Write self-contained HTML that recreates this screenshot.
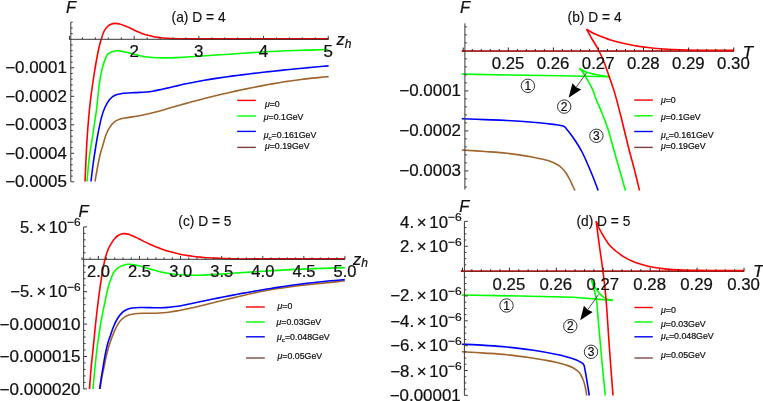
<!DOCTYPE html>
<html><head><meta charset="utf-8"><title>Free energy plots</title>
<style>
html,body{margin:0;padding:0;background:#fff;}
body{width:763px;height:401px;overflow:hidden;font-family:"Liberation Sans",sans-serif;}
svg{display:block;will-change:transform;}
svg text{font-family:"Liberation Sans",sans-serif;stroke:#111;stroke-width:0.22px;}
</style></head><body>
<svg width="763" height="401" viewBox="0 0 763 401">
<defs>
<linearGradient id="fadeA" gradientUnits="userSpaceOnUse" x1="170" y1="0" x2="200" y2="0"><stop offset="0" stop-color="#700000" stop-opacity="0"/><stop offset="1" stop-color="#700000" stop-opacity="0.28"/></linearGradient>
<linearGradient id="fadeC" gradientUnits="userSpaceOnUse" x1="215" y1="0" x2="245" y2="0"><stop offset="0" stop-color="#700000" stop-opacity="0"/><stop offset="1" stop-color="#700000" stop-opacity="0.28"/></linearGradient>
</defs>
<rect x="0" y="0" width="763" height="401" fill="#ffffff"/>
<path d="M95.00,181.50 C95.33,179.58 96.17,174.42 97.00,170.00 C97.83,165.58 98.92,159.50 100.00,155.00 C101.08,150.50 102.50,146.38 103.50,143.00 C104.50,139.62 104.98,137.27 106.00,134.70 C107.02,132.13 108.22,129.73 109.60,127.60 C110.98,125.47 112.53,123.35 114.30,121.90 C116.07,120.45 118.03,119.62 120.20,118.90 C122.37,118.18 124.13,118.13 127.30,117.60 C130.47,117.07 135.84,116.30 139.20,115.70 C142.56,115.10 144.69,114.63 147.43,114.02 C150.18,113.41 152.92,112.76 155.67,112.04 C158.41,111.33 161.16,110.53 163.90,109.74 C166.65,108.95 169.39,108.12 172.14,107.32 C174.88,106.52 177.63,105.72 180.37,104.95 C183.12,104.17 185.86,103.41 188.61,102.66 C191.35,101.91 194.10,101.18 196.84,100.46 C199.59,99.74 202.33,99.03 205.08,98.34 C207.82,97.64 210.57,96.96 213.31,96.29 C216.06,95.62 218.80,94.97 221.55,94.33 C224.29,93.68 227.04,93.05 229.78,92.43 C232.53,91.82 235.27,91.21 238.02,90.61 C240.76,90.02 243.51,89.44 246.25,88.86 C249.00,88.29 251.74,87.73 254.49,87.19 C257.23,86.64 259.98,86.11 262.72,85.59 C265.47,85.08 268.21,84.57 270.96,84.09 C273.70,83.60 276.45,83.13 279.19,82.68 C281.94,82.22 284.68,81.79 287.43,81.37 C290.17,80.95 292.92,80.55 295.66,80.18 C298.41,79.80 301.15,79.44 303.90,79.10 C306.64,78.76 309.39,78.44 312.13,78.15 C314.88,77.85 317.62,77.58 320.37,77.33 C323.11,77.08 327.23,76.76 328.60,76.65" fill="none" stroke="#a0642d" stroke-width="1.60" stroke-linejoin="round" stroke-linecap="butt"/>
<path d="M91.00,181.50 C91.33,178.75 92.17,171.08 93.00,165.00 C93.83,158.92 95.20,150.05 96.00,145.00 C96.80,139.95 96.92,139.18 97.80,134.70 C98.68,130.22 100.12,122.63 101.30,118.10 C102.48,113.57 103.52,110.62 104.90,107.50 C106.28,104.38 107.83,101.48 109.60,99.40 C111.37,97.32 113.33,96.00 115.50,95.00 C117.67,94.00 119.45,93.80 122.60,93.40 C125.75,93.00 130.45,92.83 134.40,92.60 C138.35,92.37 143.00,92.28 146.30,92.00 C149.60,91.72 151.58,91.36 154.23,90.90 C156.87,90.44 159.51,89.81 162.15,89.23 C164.79,88.65 167.44,88.04 170.08,87.43 C172.72,86.83 175.36,86.20 178.00,85.60 C180.65,85.00 183.29,84.39 185.93,83.83 C188.57,83.26 191.21,82.70 193.86,82.18 C196.50,81.66 199.14,81.17 201.78,80.70 C204.42,80.23 207.07,79.78 209.71,79.35 C212.35,78.92 214.99,78.51 217.63,78.11 C220.28,77.72 222.92,77.34 225.56,76.97 C228.20,76.61 230.84,76.25 233.49,75.91 C236.13,75.56 238.77,75.23 241.41,74.89 C244.06,74.56 246.70,74.24 249.34,73.92 C251.98,73.60 254.62,73.29 257.27,72.98 C259.91,72.67 262.55,72.37 265.19,72.07 C267.83,71.78 270.48,71.49 273.12,71.20 C275.76,70.91 278.40,70.63 281.04,70.36 C283.69,70.08 286.33,69.81 288.97,69.55 C291.61,69.28 294.25,69.02 296.90,68.76 C299.54,68.51 302.18,68.25 304.82,68.01 C307.46,67.76 310.11,67.52 312.75,67.28 C315.39,67.04 318.03,66.80 320.67,66.57 C323.32,66.34 327.28,66.00 328.60,65.89" fill="none" stroke="#0000ff" stroke-width="1.60" stroke-linejoin="round" stroke-linecap="butt"/>
<path d="M87.00,181.50 C87.37,177.58 88.37,164.92 89.20,158.00 C90.03,151.08 91.08,146.00 92.00,140.00 C92.92,134.00 93.93,127.17 94.70,122.00 C95.47,116.83 95.90,114.78 96.60,109.00 C97.30,103.22 98.17,93.13 98.90,87.30 C99.63,81.47 100.23,77.88 101.00,74.00 C101.77,70.12 102.47,67.17 103.50,64.00 C104.53,60.83 105.87,57.00 107.20,55.00 C108.53,53.00 109.78,52.72 111.50,52.00 C113.22,51.28 115.42,50.73 117.50,50.70 C119.58,50.67 121.25,51.22 124.00,51.80 C126.75,52.38 130.75,53.42 134.00,54.20 C137.25,54.98 140.50,55.95 143.50,56.50 C146.50,57.05 148.85,57.27 152.00,57.50 C155.15,57.73 158.57,57.88 162.40,57.90 C166.23,57.92 170.23,57.78 175.00,57.60 C179.77,57.42 182.67,57.32 191.00,56.80 C199.33,56.28 212.92,55.32 225.00,54.50 C237.08,53.68 251.83,52.57 263.50,51.90 C275.17,51.23 284.17,50.90 295.00,50.50 C305.83,50.10 322.92,49.67 328.50,49.50" fill="none" stroke="#00ff00" stroke-width="1.60" stroke-linejoin="round" stroke-linecap="butt"/>
<path d="M85.00,181.50 C85.33,174.58 86.30,151.58 87.00,140.00 C87.70,128.42 88.47,119.83 89.20,112.00 C89.93,104.17 90.60,99.17 91.40,93.00 C92.20,86.83 93.15,80.50 94.00,75.00 C94.85,69.50 95.67,64.58 96.50,60.00 C97.33,55.42 98.22,50.95 99.00,47.50 C99.78,44.05 100.33,42.05 101.20,39.30 C102.07,36.55 103.15,33.13 104.20,31.00 C105.25,28.87 106.37,27.63 107.50,26.50 C108.63,25.37 109.72,24.72 111.00,24.20 C112.28,23.68 113.78,23.43 115.20,23.40 C116.62,23.37 117.93,23.62 119.50,24.00 C121.07,24.38 123.02,25.10 124.60,25.70 C126.18,26.30 127.43,26.90 129.00,27.60 C130.57,28.30 132.42,29.18 134.00,29.90 C135.58,30.62 136.92,31.23 138.50,31.90 C140.08,32.57 141.92,33.33 143.50,33.90 C145.08,34.47 146.43,34.87 148.00,35.30 C149.57,35.73 151.32,36.15 152.90,36.50 C154.48,36.85 155.92,37.15 157.50,37.40 C159.08,37.65 160.02,37.80 162.40,38.00 C164.78,38.20 168.67,38.47 171.80,38.60 C174.93,38.73 178.00,38.75 181.20,38.80 C184.40,38.85 186.20,38.88 191.00,38.90 C195.80,38.92 187.05,38.90 210.00,38.90 C232.95,38.90 308.92,38.90 328.70,38.90" fill="none" stroke="#ff0000" stroke-width="1.60" stroke-linejoin="round" stroke-linecap="butt"/>
<path d="M69.23,39.30 L328.21,39.30 M70.80,22.20 L70.80,181.80 M69.53,39.30 L69.53,35.90 M82.46,39.30 L82.46,37.40 M95.40,39.30 L95.40,37.40 M108.33,39.30 L108.33,37.40 M121.27,39.30 L121.27,37.40 M134.20,39.30 L134.20,35.90 M147.13,39.30 L147.13,37.40 M160.07,39.30 L160.07,37.40 M173.00,39.30 L173.00,37.40 M185.94,39.30 L185.94,37.40 M198.87,39.30 L198.87,35.90 M211.80,39.30 L211.80,37.40 M224.74,39.30 L224.74,37.40 M237.67,39.30 L237.67,37.40 M250.61,39.30 L250.61,37.40 M263.54,39.30 L263.54,35.90 M276.47,39.30 L276.47,37.40 M289.41,39.30 L289.41,37.40 M302.34,39.30 L302.34,37.40 M315.28,39.30 L315.28,37.40 M328.21,39.30 L328.21,35.90 M70.80,181.80 L74.20,181.80 M70.80,176.10 L72.70,176.10 M70.80,170.40 L72.70,170.40 M70.80,164.70 L72.70,164.70 M70.80,159.00 L72.70,159.00 M70.80,153.30 L74.20,153.30 M70.80,147.60 L72.70,147.60 M70.80,141.90 L72.70,141.90 M70.80,136.20 L72.70,136.20 M70.80,130.50 L72.70,130.50 M70.80,124.80 L74.20,124.80 M70.80,119.10 L72.70,119.10 M70.80,113.40 L72.70,113.40 M70.80,107.70 L72.70,107.70 M70.80,102.00 L72.70,102.00 M70.80,96.30 L74.20,96.30 M70.80,90.60 L72.70,90.60 M70.80,84.90 L72.70,84.90 M70.80,79.20 L72.70,79.20 M70.80,73.50 L72.70,73.50 M70.80,67.80 L74.20,67.80 M70.80,62.10 L72.70,62.10 M70.80,56.40 L72.70,56.40 M70.80,50.70 L72.70,50.70 M70.80,45.00 L72.70,45.00 M70.80,33.60 L72.70,33.60 M70.80,27.90 L72.70,27.90 M70.80,22.20 L72.70,22.20" fill="none" stroke="#383838" stroke-width="1"/>
<path d="M170,39.30 L328.21,39.30" stroke="url(#fadeA)" stroke-width="1" fill="none"/>
<text x="66.00" y="12.50" font-size="16.50" text-anchor="start" fill="#111" font-style="italic">F</text>
<text transform="translate(66.90,73.20) scale(1.0600,1)" font-size="16.00" text-anchor="end" fill="#111" >−0.0001</text>
<text transform="translate(66.90,101.70) scale(1.0600,1)" font-size="16.00" text-anchor="end" fill="#111" >−0.0002</text>
<text transform="translate(66.90,130.20) scale(1.0600,1)" font-size="16.00" text-anchor="end" fill="#111" >−0.0003</text>
<text transform="translate(66.90,158.70) scale(1.0600,1)" font-size="16.00" text-anchor="end" fill="#111" >−0.0004</text>
<text transform="translate(66.90,187.20) scale(1.0600,1)" font-size="16.00" text-anchor="end" fill="#111" >−0.0005</text>
<text transform="translate(134.10,57.30) scale(1.0600,1)" font-size="16.00" text-anchor="middle" fill="#111" >2</text>
<text transform="translate(198.77,57.30) scale(1.0600,1)" font-size="16.00" text-anchor="middle" fill="#111" >3</text>
<text transform="translate(263.44,57.30) scale(1.0600,1)" font-size="16.00" text-anchor="middle" fill="#111" >4</text>
<text transform="translate(328.11,57.30) scale(1.0600,1)" font-size="16.00" text-anchor="middle" fill="#111" >5</text>
<text transform="translate(171.60,21.60) scale(0.9850,1)" font-size="14.00" text-anchor="start" fill="#111" style="stroke-width:0.15px">(a) D = 4</text>
<text x="336.50" y="45.20" font-size="16.50" text-anchor="start" fill="#111" font-style="italic">z<tspan font-size="12" dy="2.5">h</tspan></text>
<line x1="237.20" y1="100.40" x2="255.90" y2="100.40" stroke="#ff0000" stroke-width="1.40"/>
<text x="264.90" y="106.70" font-size="8.80" text-anchor="start" fill="#111" stroke="#111" stroke-width="0.2"><tspan font-style="italic">μ</tspan>=0</text>
<line x1="237.20" y1="116.00" x2="255.90" y2="116.00" stroke="#00ff00" stroke-width="1.40"/>
<text x="263.70" y="120.10" font-size="8.80" text-anchor="start" fill="#111" stroke="#111" stroke-width="0.2"><tspan font-style="italic">μ</tspan>=0.1GeV</text>
<line x1="237.20" y1="131.40" x2="255.90" y2="131.40" stroke="#0000ff" stroke-width="1.40"/>
<text x="263.70" y="138.00" font-size="8.80" text-anchor="start" fill="#111" stroke="#111" stroke-width="0.2"><tspan font-style="italic">μ</tspan><tspan font-style="italic" font-size="6.2" dy="1.6">c</tspan><tspan dy="-1.6">=0.161GeV</tspan></text>
<line x1="237.20" y1="147.40" x2="255.90" y2="147.40" stroke="#7d3c3c" stroke-width="1.40"/>
<text x="264.90" y="148.90" font-size="8.80" text-anchor="start" fill="#111" stroke="#111" stroke-width="0.2"><tspan font-style="italic">μ</tspan>=0.19GeV</text>
<path d="M461.80,150.00 C465.67,150.25 477.47,150.95 485.00,151.50 C492.53,152.05 499.17,152.38 507.00,153.30 C514.83,154.22 525.67,155.92 532.00,157.00 C538.33,158.08 541.67,158.97 545.00,159.80 C548.33,160.63 549.83,161.13 552.00,162.00 C554.17,162.87 556.33,163.95 558.00,165.00 C559.67,166.05 560.67,166.97 562.00,168.30 C563.33,169.63 564.67,171.05 566.00,173.00 C567.33,174.95 568.83,177.75 570.00,180.00 C571.17,182.25 572.17,184.75 573.00,186.50 C573.83,188.25 574.67,189.83 575.00,190.50" fill="none" stroke="#a0642d" stroke-width="1.60" stroke-linejoin="round" stroke-linecap="butt"/>
<path d="M461.80,118.70 C465.67,118.85 477.47,119.30 485.00,119.60 C492.53,119.90 498.00,119.97 507.00,120.50 C516.00,121.03 531.00,122.12 539.00,122.80 C547.00,123.48 550.97,124.07 555.00,124.60 C559.03,125.13 561.37,125.38 563.20,126.00 C565.03,126.62 564.50,126.58 566.00,128.30 C567.50,130.02 569.48,132.27 572.20,136.30 C574.92,140.33 579.00,146.13 582.30,152.50 C585.60,158.87 589.35,168.17 592.00,174.50 C594.65,180.83 597.17,187.83 598.20,190.50" fill="none" stroke="#0000ff" stroke-width="1.60" stroke-linejoin="round" stroke-linecap="butt"/>
<path d="M461.80,74.10 L510.00,75.00 L560.00,75.80 L610.30,76.80" fill="none" stroke="#00ff00" stroke-width="1.60" stroke-linejoin="round" stroke-linecap="butt"/>
<path d="M610.30,76.80 C608.53,76.55 602.58,75.77 599.70,75.30 C596.82,74.83 595.05,74.45 593.00,74.00 C590.95,73.55 589.08,73.18 587.40,72.60 C585.72,72.02 584.22,71.22 582.90,70.50 C581.58,69.78 580.07,68.67 579.50,68.30" fill="none" stroke="#00ff00" stroke-width="1.60" stroke-linejoin="round" stroke-linecap="butt"/>
<path d="M579.50,68.30 C580.02,68.92 581.57,70.58 582.60,72.00 C583.63,73.42 584.07,73.93 585.70,76.80 C587.33,79.67 590.62,85.33 592.40,89.20 C594.18,93.07 594.90,96.27 596.40,100.00 C597.90,103.73 599.45,106.68 601.40,111.60 C603.35,116.52 606.03,123.15 608.10,129.50 C610.17,135.85 611.88,142.95 613.80,149.70 C615.72,156.45 617.67,163.20 619.60,170.00 C621.53,176.80 624.43,187.08 625.40,190.50" fill="none" stroke="#00ff00" stroke-width="1.60" stroke-linejoin="round" stroke-linecap="butt"/>
<line x1="461.80" y1="51.00" x2="733.70" y2="51.00" stroke="#ff0000" stroke-width="2.00"/>
<line x1="463.40" y1="50.50" x2="733.70" y2="50.50" stroke="#bc4040" stroke-width="1.00"/>
<line x1="463.40" y1="51.50" x2="733.70" y2="51.50" stroke="#a83030" stroke-width="1.00"/>
<path d="M586.60,29.20 C587.50,29.75 590.10,31.48 592.00,32.50 C593.90,33.52 594.92,34.05 598.00,35.30 C601.08,36.55 606.33,38.67 610.50,40.00 C614.67,41.33 618.92,42.35 623.00,43.30 C627.08,44.25 630.83,45.00 635.00,45.70 C639.17,46.40 643.83,47.00 648.00,47.50 C652.17,48.00 655.83,48.37 660.00,48.70 C664.17,49.03 666.67,49.25 673.00,49.50 C679.33,49.75 690.17,50.05 698.00,50.20 C705.83,50.35 713.97,50.37 720.00,50.40 C726.03,50.43 731.83,50.40 734.20,50.40" fill="none" stroke="#ff0000" stroke-width="1.60" stroke-linejoin="round" stroke-linecap="butt"/>
<path d="M586.60,29.20 C587.50,30.83 590.10,35.70 592.00,39.00 C593.90,42.30 595.97,45.08 598.00,49.00 C600.03,52.92 602.27,57.68 604.20,62.50 C606.13,67.32 607.82,72.72 609.60,77.90 C611.38,83.08 612.93,86.87 614.90,93.60 C616.87,100.33 619.13,109.32 621.40,118.30 C623.67,127.28 626.40,139.22 628.50,147.50 C630.60,155.78 632.17,160.83 634.00,168.00 C635.83,175.17 638.58,186.75 639.50,190.50" fill="none" stroke="#ff0000" stroke-width="1.60" stroke-linejoin="round" stroke-linecap="butt"/>
<path d="M463.22,51.30 L463.22,47.50 M472.24,51.30 L472.24,49.00 M481.25,51.30 L481.25,49.00 M490.27,51.30 L490.27,49.00 M499.28,51.30 L499.28,49.00 M508.30,51.30 L508.30,47.50 M517.32,51.30 L517.32,49.00 M526.33,51.30 L526.33,49.00 M535.35,51.30 L535.35,49.00 M544.36,51.30 L544.36,49.00 M553.38,51.30 L553.38,47.50 M562.40,51.30 L562.40,49.00 M571.41,51.30 L571.41,49.00 M580.43,51.30 L580.43,49.00 M589.44,51.30 L589.44,49.00 M598.46,51.30 L598.46,47.50 M607.48,51.30 L607.48,49.00 M616.49,51.30 L616.49,49.00 M625.51,51.30 L625.51,49.00 M634.52,51.30 L634.52,49.00 M643.54,51.30 L643.54,47.50 M652.56,51.30 L652.56,49.00 M661.57,51.30 L661.57,49.00 M670.59,51.30 L670.59,49.00 M679.60,51.30 L679.60,49.00 M688.62,51.30 L688.62,47.50 M697.64,51.30 L697.64,49.00 M706.65,51.30 L706.65,49.00 M715.67,51.30 L715.67,49.00 M724.68,51.30 L724.68,49.00 M733.70,51.30 L733.70,47.50" fill="none" stroke="#2c2020" stroke-width="1"/>
<path d="M464.90,23.30 L464.90,189.50 M464.90,186.90 L466.80,186.90 M464.90,178.90 L466.80,178.90 M464.90,170.90 L468.30,170.90 M464.90,162.90 L466.80,162.90 M464.90,154.90 L466.80,154.90 M464.90,146.90 L466.80,146.90 M464.90,138.90 L466.80,138.90 M464.90,130.90 L468.30,130.90 M464.90,122.90 L466.80,122.90 M464.90,114.90 L466.80,114.90 M464.90,106.90 L466.80,106.90 M464.90,98.90 L466.80,98.90 M464.90,90.90 L468.30,90.90 M464.90,82.90 L466.80,82.90 M464.90,74.90 L466.80,74.90 M464.90,66.90 L466.80,66.90 M464.90,58.90 L466.80,58.90 M464.90,42.90 L466.80,42.90 M464.90,34.90 L466.80,34.90 M464.90,26.90 L466.80,26.90" fill="none" stroke="#383838" stroke-width="1"/>
<text x="460.00" y="12.50" font-size="16.50" text-anchor="start" fill="#111" font-style="italic">F</text>
<text transform="translate(461.00,96.40) scale(1.0600,1)" font-size="16.00" text-anchor="end" fill="#111" >−0.0001</text>
<text transform="translate(461.00,136.40) scale(1.0600,1)" font-size="16.00" text-anchor="end" fill="#111" >−0.0002</text>
<text transform="translate(461.00,176.40) scale(1.0600,1)" font-size="16.00" text-anchor="end" fill="#111" >−0.0003</text>
<text transform="translate(508.00,69.20) scale(1.0300,1)" font-size="16.30" text-anchor="middle" fill="#111" >0.25</text>
<text transform="translate(553.08,69.20) scale(1.0300,1)" font-size="16.30" text-anchor="middle" fill="#111" >0.26</text>
<text transform="translate(598.16,69.20) scale(1.0300,1)" font-size="16.30" text-anchor="middle" fill="#111" >0.27</text>
<text transform="translate(643.24,69.20) scale(1.0300,1)" font-size="16.30" text-anchor="middle" fill="#111" >0.28</text>
<text transform="translate(688.32,69.20) scale(1.0300,1)" font-size="16.30" text-anchor="middle" fill="#111" >0.29</text>
<text transform="translate(733.40,69.20) scale(1.0300,1)" font-size="16.30" text-anchor="middle" fill="#111" >0.30</text>
<text transform="translate(567.60,21.60) scale(0.9850,1)" font-size="14.00" text-anchor="start" fill="#111" style="stroke-width:0.15px">(b) D = 4</text>
<text x="742.40" y="57.60" font-size="17.30" text-anchor="start" fill="#111" font-style="italic">T</text>
<line x1="634.20" y1="100.10" x2="652.80" y2="100.10" stroke="#ff0000" stroke-width="1.40"/>
<text x="660.90" y="102.90" font-size="8.80" text-anchor="start" fill="#111" stroke="#111" stroke-width="0.2"><tspan font-style="italic">μ</tspan>=0</text>
<line x1="634.20" y1="115.80" x2="652.80" y2="115.80" stroke="#00ff00" stroke-width="1.40"/>
<text x="660.90" y="119.90" font-size="8.80" text-anchor="start" fill="#111" stroke="#111" stroke-width="0.2"><tspan font-style="italic">μ</tspan>=0.1GeV</text>
<line x1="634.20" y1="131.50" x2="652.80" y2="131.50" stroke="#0000ff" stroke-width="1.40"/>
<text x="660.90" y="137.90" font-size="8.80" text-anchor="start" fill="#111" stroke="#111" stroke-width="0.2"><tspan font-style="italic">μ</tspan><tspan font-style="italic" font-size="6.2" dy="1.6">c</tspan><tspan dy="-1.6">=0.161GeV</tspan></text>
<line x1="634.20" y1="147.40" x2="652.80" y2="147.40" stroke="#7d3c3c" stroke-width="1.40"/>
<text x="660.90" y="148.90" font-size="8.80" text-anchor="start" fill="#111" stroke="#111" stroke-width="0.2"><tspan font-style="italic">μ</tspan>=0.19GeV</text>
<line x1="586.60" y1="72.80" x2="576.23" y2="87.15" stroke="#222" stroke-width="0.80"/>
<path d="M568.60,97.70 L572.43,83.19 L576.23,87.15 L581.18,89.52 Z" fill="#000"/>
<circle cx="527.90" cy="85.80" r="6.7" fill="none" stroke="#111" stroke-width="0.85"/>
<text x="527.90" y="90.00" font-size="12.00" text-anchor="middle" fill="#111" >1</text>
<circle cx="564.20" cy="106.60" r="6.7" fill="none" stroke="#111" stroke-width="0.85"/>
<text x="564.20" y="110.80" font-size="12.00" text-anchor="middle" fill="#111" >2</text>
<circle cx="596.40" cy="135.80" r="6.7" fill="none" stroke="#111" stroke-width="0.85"/>
<text x="596.40" y="140.00" font-size="12.00" text-anchor="middle" fill="#111" >3</text>
<path d="M100.10,389.00 C100.38,387.17 101.17,381.57 101.80,378.00 C102.43,374.43 103.15,371.27 103.90,367.60 C104.65,363.93 105.40,359.80 106.30,356.00 C107.20,352.20 108.28,348.12 109.30,344.80 C110.32,341.48 111.25,339.00 112.40,336.10 C113.55,333.20 114.95,329.88 116.20,327.40 C117.45,324.92 118.45,322.97 119.90,321.20 C121.35,319.43 123.23,317.88 124.90,316.80 C126.57,315.72 128.23,315.22 129.90,314.70 C131.57,314.18 132.83,313.93 134.90,313.70 C136.97,313.47 139.90,313.37 142.30,313.30 C144.70,313.23 146.96,313.32 149.28,313.30 C151.61,313.28 153.94,313.27 156.27,313.18 C158.59,313.08 160.92,312.93 163.25,312.72 C165.58,312.51 167.90,312.25 170.23,311.94 C172.56,311.63 174.89,311.26 177.21,310.86 C179.54,310.47 181.87,310.02 184.20,309.55 C186.52,309.08 188.85,308.58 191.18,308.06 C193.51,307.54 195.83,306.99 198.16,306.44 C200.49,305.89 202.82,305.33 205.14,304.76 C207.47,304.20 209.80,303.62 212.13,303.04 C214.46,302.47 216.78,301.89 219.11,301.31 C221.44,300.73 223.77,300.15 226.09,299.58 C228.42,299.00 230.75,298.43 233.08,297.86 C235.40,297.30 237.73,296.74 240.06,296.19 C242.39,295.64 244.71,295.09 247.04,294.57 C249.37,294.04 251.70,293.52 254.02,293.02 C256.35,292.52 258.68,292.03 261.01,291.56 C263.33,291.09 265.66,290.64 267.99,290.21 C270.32,289.79 272.64,289.38 274.97,289.00 C277.30,288.61 279.63,288.25 281.96,287.91 C284.28,287.57 286.61,287.25 288.94,286.94 C291.27,286.64 293.59,286.35 295.92,286.07 C298.25,285.80 300.58,285.53 302.90,285.28 C305.23,285.02 307.56,284.77 309.89,284.53 C312.21,284.29 314.54,284.05 316.87,283.81 C319.20,283.58 321.52,283.34 323.85,283.10 C326.18,282.87 328.51,282.63 330.83,282.38 C333.16,282.13 335.49,281.88 337.82,281.62 C340.14,281.36 343.64,280.94 344.80,280.80" fill="none" stroke="#a0642d" stroke-width="1.60" stroke-linejoin="round" stroke-linecap="butt"/>
<path d="M99.60,389.00 C99.83,387.42 100.50,382.67 101.00,379.50 C101.50,376.33 101.97,373.75 102.60,370.00 C103.23,366.25 104.00,361.20 104.80,357.00 C105.60,352.80 106.43,348.48 107.40,344.80 C108.37,341.12 109.55,338.00 110.60,334.90 C111.65,331.80 112.57,328.90 113.70,326.20 C114.83,323.50 115.95,321.00 117.40,318.70 C118.85,316.40 120.73,313.97 122.40,312.40 C124.07,310.83 125.73,310.03 127.40,309.30 C129.07,308.57 130.33,308.30 132.40,308.00 C134.47,307.70 137.39,307.57 139.80,307.50 C142.21,307.43 144.51,307.54 146.87,307.59 C149.23,307.63 151.58,307.73 153.94,307.76 C156.29,307.78 158.65,307.79 161.01,307.72 C163.36,307.65 165.72,307.53 168.08,307.34 C170.43,307.14 172.79,306.86 175.14,306.54 C177.50,306.22 179.86,305.83 182.21,305.42 C184.57,305.00 186.93,304.54 189.28,304.06 C191.64,303.59 194.00,303.08 196.35,302.58 C198.71,302.08 201.06,301.57 203.42,301.07 C205.78,300.57 208.13,300.08 210.49,299.59 C212.85,299.10 215.20,298.62 217.56,298.14 C219.91,297.66 222.27,297.19 224.63,296.73 C226.98,296.26 229.34,295.80 231.70,295.35 C234.05,294.89 236.41,294.44 238.77,294.00 C241.12,293.56 243.48,293.13 245.83,292.70 C248.19,292.27 250.55,291.85 252.90,291.44 C255.26,291.02 257.62,290.61 259.97,290.22 C262.33,289.82 264.69,289.42 267.04,289.04 C269.40,288.66 271.75,288.28 274.11,287.91 C276.47,287.55 278.82,287.19 281.18,286.83 C283.54,286.48 285.89,286.14 288.25,285.81 C290.60,285.47 292.96,285.15 295.32,284.83 C297.67,284.52 300.03,284.21 302.39,283.91 C304.74,283.61 307.10,283.33 309.46,283.05 C311.81,282.77 314.17,282.50 316.52,282.24 C318.88,281.98 321.24,281.74 323.59,281.50 C325.95,281.26 328.31,281.03 330.66,280.81 C333.02,280.60 335.37,280.39 337.73,280.20 C340.09,280.00 343.62,279.74 344.80,279.65" fill="none" stroke="#0000ff" stroke-width="1.60" stroke-linejoin="round" stroke-linecap="butt"/>
<path d="M93.00,389.00 C93.33,385.33 94.25,374.33 95.00,367.00 C95.75,359.67 96.50,352.50 97.50,345.00 C98.50,337.50 99.68,329.53 101.00,322.00 C102.32,314.47 104.18,305.63 105.40,299.80 C106.62,293.97 107.23,290.88 108.30,287.00 C109.37,283.12 110.72,279.17 111.80,276.50 C112.88,273.83 113.73,272.45 114.80,271.00 C115.87,269.55 117.12,268.63 118.20,267.80 C119.28,266.97 120.25,266.48 121.30,266.00 C122.35,265.52 123.52,265.18 124.50,264.90 C125.48,264.62 126.32,264.42 127.20,264.30 C128.08,264.18 128.58,264.13 129.80,264.20 C131.02,264.27 132.90,264.42 134.50,264.70 C136.10,264.98 136.82,265.17 139.40,265.90 C141.98,266.63 147.07,268.25 150.00,269.10 C152.93,269.95 154.53,270.40 157.00,271.00 C159.47,271.60 162.13,272.20 164.80,272.70 C167.47,273.20 170.17,273.65 173.00,274.00 C175.83,274.35 178.80,274.60 181.80,274.80 C184.80,275.00 187.97,275.13 191.00,275.20 C194.03,275.27 195.83,275.33 200.00,275.20 C204.17,275.07 207.08,274.95 216.00,274.40 C224.92,273.85 241.00,272.70 253.50,271.90 C266.00,271.10 275.78,270.32 291.00,269.60 C306.22,268.88 335.83,267.93 344.80,267.60" fill="none" stroke="#00ff00" stroke-width="1.60" stroke-linejoin="round" stroke-linecap="butt"/>
<path d="M89.50,389.00 C89.78,385.33 90.53,374.33 91.20,367.00 C91.87,359.67 92.70,352.83 93.50,345.00 C94.30,337.17 95.08,328.33 96.00,320.00 C96.92,311.67 98.03,302.33 99.00,295.00 C99.97,287.67 100.80,281.95 101.80,276.00 C102.80,270.05 103.92,263.80 105.00,259.30 C106.08,254.80 107.17,251.78 108.30,249.00 C109.43,246.22 110.68,244.40 111.80,242.60 C112.92,240.80 113.93,239.38 115.00,238.20 C116.07,237.02 117.15,236.20 118.20,235.50 C119.25,234.80 120.25,234.32 121.30,234.00 C122.35,233.68 123.30,233.55 124.50,233.60 C125.70,233.65 127.16,233.92 128.48,234.29 C129.81,234.66 131.14,235.24 132.47,235.80 C133.79,236.35 135.12,236.99 136.45,237.62 C137.78,238.26 139.10,238.95 140.43,239.62 C141.76,240.29 143.09,240.98 144.41,241.63 C145.74,242.28 147.07,242.92 148.40,243.54 C149.72,244.16 151.05,244.76 152.38,245.34 C153.71,245.92 155.03,246.48 156.36,247.02 C157.69,247.55 159.02,248.07 160.34,248.56 C161.67,249.05 163.00,249.52 164.33,249.96 C165.66,250.41 166.98,250.83 168.31,251.23 C169.64,251.62 170.97,252.00 172.29,252.35 C173.62,252.70 174.95,253.03 176.28,253.34 C177.60,253.65 178.93,253.94 180.26,254.22 C181.59,254.49 182.91,254.74 184.24,254.98 C185.57,255.22 186.90,255.43 188.22,255.64 C189.55,255.84 190.88,256.03 192.21,256.20 C193.53,256.38 194.86,256.54 196.19,256.69 C197.52,256.83 198.84,256.97 200.17,257.09 C201.50,257.22 202.83,257.33 204.16,257.43 C205.48,257.53 206.81,257.63 208.14,257.71 C209.47,257.80 210.79,257.87 212.12,257.94 C213.45,258.02 214.78,258.08 216.10,258.14 C217.43,258.20 218.76,258.25 220.09,258.30 C221.41,258.35 222.74,258.40 224.07,258.44 C225.40,258.49 226.72,258.53 228.05,258.57 C229.38,258.61 230.71,258.65 232.03,258.70 C233.36,258.74 234.69,258.78 236.02,258.83 C237.34,258.87 236.00,258.96 240.00,258.97 C244.00,258.98 242.50,258.91 260.00,258.90 C277.50,258.89 330.83,258.90 345.00,258.90" fill="none" stroke="#ff0000" stroke-width="1.60" stroke-linejoin="round" stroke-linecap="butt"/>
<path d="M81.61,259.30 L344.95,259.30 M83.65,226.90 L83.65,388.90 M81.91,259.30 L81.91,257.40 M90.13,259.30 L90.13,257.40 M98.35,259.30 L98.35,255.90 M106.57,259.30 L106.57,257.40 M114.79,259.30 L114.79,257.40 M123.01,259.30 L123.01,257.40 M131.23,259.30 L131.23,257.40 M139.45,259.30 L139.45,255.90 M147.67,259.30 L147.67,257.40 M155.89,259.30 L155.89,257.40 M164.11,259.30 L164.11,257.40 M172.33,259.30 L172.33,257.40 M180.55,259.30 L180.55,255.90 M188.77,259.30 L188.77,257.40 M196.99,259.30 L196.99,257.40 M205.21,259.30 L205.21,257.40 M213.43,259.30 L213.43,257.40 M221.65,259.30 L221.65,255.90 M229.87,259.30 L229.87,257.40 M238.09,259.30 L238.09,257.40 M246.31,259.30 L246.31,257.40 M254.53,259.30 L254.53,257.40 M262.75,259.30 L262.75,255.90 M270.97,259.30 L270.97,257.40 M279.19,259.30 L279.19,257.40 M287.41,259.30 L287.41,257.40 M295.63,259.30 L295.63,257.40 M303.85,259.30 L303.85,255.90 M312.07,259.30 L312.07,257.40 M320.29,259.30 L320.29,257.40 M328.51,259.30 L328.51,257.40 M336.73,259.30 L336.73,257.40 M344.95,259.30 L344.95,255.90 M83.65,388.90 L87.05,388.90 M83.65,382.42 L85.55,382.42 M83.65,375.94 L85.55,375.94 M83.65,369.46 L85.55,369.46 M83.65,362.98 L85.55,362.98 M83.65,356.50 L87.05,356.50 M83.65,350.02 L85.55,350.02 M83.65,343.54 L85.55,343.54 M83.65,337.06 L85.55,337.06 M83.65,330.58 L85.55,330.58 M83.65,324.10 L87.05,324.10 M83.65,317.62 L85.55,317.62 M83.65,311.14 L85.55,311.14 M83.65,304.66 L85.55,304.66 M83.65,298.18 L85.55,298.18 M83.65,291.70 L87.05,291.70 M83.65,285.22 L85.55,285.22 M83.65,278.74 L85.55,278.74 M83.65,272.26 L85.55,272.26 M83.65,265.78 L85.55,265.78 M83.65,252.82 L85.55,252.82 M83.65,246.34 L85.55,246.34 M83.65,239.86 L85.55,239.86 M83.65,233.38 L85.55,233.38 M83.65,226.90 L87.05,226.90" fill="none" stroke="#383838" stroke-width="1"/>
<path d="M215,259.30 L344.95,259.30" stroke="url(#fadeC)" stroke-width="1" fill="none"/>
<text x="78.40" y="216.80" font-size="16.50" text-anchor="start" fill="#111" font-style="italic">F</text>
<text transform="translate(80.70,232.80) scale(1.0350,1)" font-size="16.00" text-anchor="end" fill="#111" >5.<tspan dx="2.6">×</tspan><tspan dx="2.6">10</tspan><tspan font-size="11.5" dy="-6.5">−6</tspan></text>
<text transform="translate(80.70,297.40) scale(1.0350,1)" font-size="16.00" text-anchor="end" fill="#111" >−5.<tspan dx="2.6">×</tspan><tspan dx="2.6">10</tspan><tspan font-size="11.5" dy="-6.5">−6</tspan></text>
<text transform="translate(80.50,330.00) scale(1.0650,1)" font-size="16.00" text-anchor="end" fill="#111" >−0.000010</text>
<text transform="translate(80.50,362.40) scale(1.0650,1)" font-size="16.00" text-anchor="end" fill="#111" >−0.000015</text>
<text transform="translate(80.50,394.80) scale(1.0650,1)" font-size="16.00" text-anchor="end" fill="#111" >−0.000020</text>
<text transform="translate(98.45,277.00) scale(1.0200,1)" font-size="16.20" text-anchor="middle" fill="#111" >2.0</text>
<text transform="translate(139.55,277.00) scale(1.0200,1)" font-size="16.20" text-anchor="middle" fill="#111" >2.5</text>
<text transform="translate(180.65,277.00) scale(1.0200,1)" font-size="16.20" text-anchor="middle" fill="#111" >3.0</text>
<text transform="translate(221.75,277.00) scale(1.0200,1)" font-size="16.20" text-anchor="middle" fill="#111" >3.5</text>
<text transform="translate(262.85,277.00) scale(1.0200,1)" font-size="16.20" text-anchor="middle" fill="#111" >4.0</text>
<text transform="translate(303.95,277.00) scale(1.0200,1)" font-size="16.20" text-anchor="middle" fill="#111" >4.5</text>
<text transform="translate(345.05,277.00) scale(1.0200,1)" font-size="16.20" text-anchor="middle" fill="#111" >5.0</text>
<text transform="translate(178.30,225.50) scale(0.9850,1)" font-size="14.00" text-anchor="start" fill="#111" style="stroke-width:0.15px">(c) D = 5</text>
<text x="353.00" y="264.70" font-size="16.50" text-anchor="start" fill="#111" font-style="italic">z<tspan font-size="12" dy="2.5">h</tspan></text>
<line x1="246.00" y1="307.00" x2="264.80" y2="307.00" stroke="#ff0000" stroke-width="1.40"/>
<text x="277.50" y="308.90" font-size="8.80" text-anchor="start" fill="#111" stroke="#111" stroke-width="0.2"><tspan font-style="italic">μ</tspan>=0</text>
<line x1="246.00" y1="322.00" x2="264.80" y2="322.00" stroke="#00ff00" stroke-width="1.40"/>
<text x="276.50" y="324.70" font-size="8.80" text-anchor="start" fill="#111" stroke="#111" stroke-width="0.2"><tspan font-style="italic">μ</tspan>=0.03GeV</text>
<line x1="246.00" y1="336.80" x2="264.80" y2="336.80" stroke="#0000ff" stroke-width="1.40"/>
<text x="277.00" y="340.20" font-size="8.80" text-anchor="start" fill="#111" stroke="#111" stroke-width="0.2"><tspan font-style="italic">μ</tspan><tspan font-style="italic" font-size="6.2" dy="1.6">c</tspan><tspan dy="-1.6">=0.048GeV</tspan></text>
<line x1="246.00" y1="358.00" x2="264.80" y2="358.00" stroke="#804848" stroke-width="1.40"/>
<text x="277.50" y="358.80" font-size="8.80" text-anchor="start" fill="#111" stroke="#111" stroke-width="0.2"><tspan font-style="italic">μ</tspan>=0.05GeV</text>
<path d="M461.80,351.70 C465.67,351.93 477.47,352.58 485.00,353.10 C492.53,353.62 499.17,353.98 507.00,354.80 C514.83,355.62 525.67,357.12 532.00,358.00 C538.33,358.88 540.83,359.35 545.00,360.10 C549.17,360.85 553.50,361.68 557.00,362.50 C560.50,363.32 563.33,364.13 566.00,365.00 C568.67,365.87 570.78,366.45 573.00,367.70 C575.22,368.95 577.63,370.53 579.30,372.50 C580.97,374.47 582.05,377.25 583.00,379.50 C583.95,381.75 584.37,383.33 585.00,386.00 C585.63,388.67 586.50,393.92 586.80,395.50" fill="none" stroke="#a0642d" stroke-width="1.60" stroke-linejoin="round" stroke-linecap="butt"/>
<path d="M461.80,344.20 C465.67,344.40 477.47,344.93 485.00,345.40 C492.53,345.87 499.17,346.23 507.00,347.00 C514.83,347.77 523.67,348.75 532.00,350.00 C540.33,351.25 550.17,353.05 557.00,354.50 C563.83,355.95 568.67,357.17 573.00,358.70 C577.33,360.23 581.00,361.82 583.00,363.70 C585.00,365.58 584.37,367.28 585.00,370.00 C585.63,372.72 586.08,375.75 586.80,380.00 C587.52,384.25 588.88,392.92 589.30,395.50" fill="none" stroke="#0000ff" stroke-width="1.60" stroke-linejoin="round" stroke-linecap="butt"/>
<path d="M461.80,295.00 L520.00,296.00 L573.00,297.30 L612.80,300.40" fill="none" stroke="#00ff00" stroke-width="1.60" stroke-linejoin="round" stroke-linecap="butt"/>
<path d="M612.80,300.40 C611.83,300.15 608.65,299.52 607.00,298.90 C605.35,298.28 604.25,297.73 602.90,296.70 C601.55,295.67 600.25,294.32 598.90,292.70 C597.55,291.08 596.02,289.17 594.80,287.00 C593.58,284.83 592.13,280.92 591.60,279.70" fill="none" stroke="#00ff00" stroke-width="1.60" stroke-linejoin="round" stroke-linecap="butt"/>
<path d="M591.60,279.70 C592.00,281.32 593.18,286.02 594.00,289.40 C594.82,292.78 595.82,295.13 596.50,300.00 C597.18,304.87 597.58,312.77 598.10,318.60 C598.62,324.43 598.98,328.10 599.60,335.00 C600.22,341.90 600.85,349.92 601.80,360.00 C602.75,370.08 604.72,389.58 605.30,395.50" fill="none" stroke="#00ff00" stroke-width="1.60" stroke-linejoin="round" stroke-linecap="butt"/>
<line x1="460.80" y1="271.00" x2="744.00" y2="271.00" stroke="#ff0000" stroke-width="2.00"/>
<line x1="462.60" y1="270.50" x2="744.00" y2="270.50" stroke="#cc5555" stroke-width="1.00"/>
<line x1="462.60" y1="271.50" x2="744.00" y2="271.50" stroke="#8c2020" stroke-width="1.00"/>
<path d="M596.20,221.20 C596.67,222.33 597.87,225.65 599.00,228.00 C600.13,230.35 601.08,232.25 603.00,235.30 C604.92,238.35 607.17,242.80 610.50,246.30 C613.83,249.80 618.83,253.60 623.00,256.30 C627.17,259.00 631.33,260.85 635.50,262.50 C639.67,264.15 643.92,265.23 648.00,266.20 C652.08,267.17 655.83,267.73 660.00,268.30 C664.17,268.87 666.67,269.25 673.00,269.60 C679.33,269.95 690.17,270.25 698.00,270.40 C705.83,270.55 712.30,270.48 720.00,270.50 C727.70,270.52 740.17,270.50 744.20,270.50" fill="none" stroke="#ff0000" stroke-width="1.60" stroke-linejoin="round" stroke-linecap="butt"/>
<path d="M596.20,221.20 C596.72,225.17 598.18,236.73 599.30,245.00 C600.42,253.27 601.77,261.63 602.90,270.80 C604.03,279.97 605.05,287.63 606.10,300.00 C607.15,312.37 608.05,329.08 609.20,345.00 C610.35,360.92 612.37,387.08 613.00,395.50" fill="none" stroke="#ff0000" stroke-width="1.60" stroke-linejoin="round" stroke-linecap="butt"/>
<path d="M462.48,271.50 L462.48,267.70 M471.86,271.50 L471.86,269.20 M481.25,271.50 L481.25,269.20 M490.63,271.50 L490.63,269.20 M500.02,271.50 L500.02,269.20 M509.40,271.50 L509.40,267.70 M518.78,271.50 L518.78,269.20 M528.17,271.50 L528.17,269.20 M537.55,271.50 L537.55,269.20 M546.94,271.50 L546.94,269.20 M556.32,271.50 L556.32,267.70 M565.70,271.50 L565.70,269.20 M575.09,271.50 L575.09,269.20 M584.47,271.50 L584.47,269.20 M593.86,271.50 L593.86,269.20 M603.24,271.50 L603.24,267.70 M612.62,271.50 L612.62,269.20 M622.01,271.50 L622.01,269.20 M631.39,271.50 L631.39,269.20 M640.78,271.50 L640.78,269.20 M650.16,271.50 L650.16,267.70 M659.54,271.50 L659.54,269.20 M668.93,271.50 L668.93,269.20 M678.31,271.50 L678.31,269.20 M687.70,271.50 L687.70,269.20 M697.08,271.50 L697.08,267.70 M706.46,271.50 L706.46,269.20 M715.85,271.50 L715.85,269.20 M725.23,271.50 L725.23,269.20 M734.62,271.50 L734.62,269.20 M744.00,271.50 L744.00,267.70" fill="none" stroke="#2c2020" stroke-width="1"/>
<path d="M464.40,221.40 L464.40,395.35 M464.40,395.35 L467.80,395.35 M464.40,389.14 L466.30,389.14 M464.40,382.93 L466.30,382.93 M464.40,376.71 L466.30,376.71 M464.40,370.50 L467.80,370.50 M464.40,364.29 L466.30,364.29 M464.40,358.08 L466.30,358.08 M464.40,351.86 L466.30,351.86 M464.40,345.65 L467.80,345.65 M464.40,339.44 L466.30,339.44 M464.40,333.23 L466.30,333.23 M464.40,327.01 L466.30,327.01 M464.40,320.80 L467.80,320.80 M464.40,314.59 L466.30,314.59 M464.40,308.38 L466.30,308.38 M464.40,302.16 L466.30,302.16 M464.40,295.95 L467.80,295.95 M464.40,289.74 L466.30,289.74 M464.40,283.53 L466.30,283.53 M464.40,277.31 L466.30,277.31 M464.40,264.89 L466.30,264.89 M464.40,258.68 L466.30,258.68 M464.40,252.46 L466.30,252.46 M464.40,246.25 L467.80,246.25 M464.40,240.04 L466.30,240.04 M464.40,233.83 L466.30,233.83 M464.40,227.61 L466.30,227.61 M464.40,221.40 L467.80,221.40" fill="none" stroke="#383838" stroke-width="1"/>
<text x="459.20" y="211.50" font-size="16.50" text-anchor="start" fill="#111" font-style="italic">F</text>
<text transform="translate(461.80,227.80) scale(1.0500,1)" font-size="16.00" text-anchor="end" fill="#111" >4.<tspan dx="2.6">×</tspan><tspan dx="2.6">10</tspan><tspan font-size="11.5" dy="-6.5">−6</tspan></text>
<text transform="translate(461.80,252.00) scale(1.0500,1)" font-size="16.00" text-anchor="end" fill="#111" >2.<tspan dx="2.6">×</tspan><tspan dx="2.6">10</tspan><tspan font-size="11.5" dy="-6.5">−6</tspan></text>
<text transform="translate(461.80,301.00) scale(1.0500,1)" font-size="16.00" text-anchor="end" fill="#111" >−2.<tspan dx="2.6">×</tspan><tspan dx="2.6">10</tspan><tspan font-size="11.5" dy="-6.5">−6</tspan></text>
<text transform="translate(461.80,327.40) scale(1.0500,1)" font-size="16.00" text-anchor="end" fill="#111" >−4.<tspan dx="2.6">×</tspan><tspan dx="2.6">10</tspan><tspan font-size="11.5" dy="-6.5">−6</tspan></text>
<text transform="translate(461.80,351.10) scale(1.0500,1)" font-size="16.00" text-anchor="end" fill="#111" >−6.<tspan dx="2.6">×</tspan><tspan dx="2.6">10</tspan><tspan font-size="11.5" dy="-6.5">−6</tspan></text>
<text transform="translate(461.80,376.50) scale(1.0500,1)" font-size="16.00" text-anchor="end" fill="#111" >−8.<tspan dx="2.6">×</tspan><tspan dx="2.6">10</tspan><tspan font-size="11.5" dy="-6.5">−6</tspan></text>
<text transform="translate(460.80,401.30) scale(1.0600,1)" font-size="16.00" text-anchor="end" fill="#111" >−0.00001</text>
<text transform="translate(508.90,289.70) scale(1.0300,1)" font-size="16.30" text-anchor="middle" fill="#111" >0.25</text>
<text transform="translate(555.82,289.70) scale(1.0300,1)" font-size="16.30" text-anchor="middle" fill="#111" >0.26</text>
<text transform="translate(602.74,289.70) scale(1.0300,1)" font-size="16.30" text-anchor="middle" fill="#111" >0.27</text>
<text transform="translate(649.66,289.70) scale(1.0300,1)" font-size="16.30" text-anchor="middle" fill="#111" >0.28</text>
<text transform="translate(696.58,289.70) scale(1.0300,1)" font-size="16.30" text-anchor="middle" fill="#111" >0.29</text>
<text transform="translate(743.50,289.70) scale(1.0300,1)" font-size="16.30" text-anchor="middle" fill="#111" >0.30</text>
<text transform="translate(576.40,225.80) scale(0.9850,1)" font-size="14.00" text-anchor="start" fill="#111" style="stroke-width:0.15px">(d) D = 5</text>
<text x="753.00" y="277.40" font-size="17.30" text-anchor="start" fill="#111" font-style="italic">T</text>
<line x1="634.40" y1="307.50" x2="652.80" y2="307.50" stroke="#ff0000" stroke-width="1.40"/>
<text x="661.00" y="312.50" font-size="8.80" text-anchor="start" fill="#111" stroke="#111" stroke-width="0.2"><tspan font-style="italic">μ</tspan>=0</text>
<line x1="634.40" y1="322.00" x2="652.80" y2="322.00" stroke="#00ff00" stroke-width="1.40"/>
<text x="661.00" y="327.30" font-size="8.80" text-anchor="start" fill="#111" stroke="#111" stroke-width="0.2"><tspan font-style="italic">μ</tspan>=0.03GeV</text>
<line x1="634.40" y1="336.80" x2="652.80" y2="336.80" stroke="#0000ff" stroke-width="1.40"/>
<text x="661.00" y="338.60" font-size="8.80" text-anchor="start" fill="#111" stroke="#111" stroke-width="0.2"><tspan font-style="italic">μ</tspan><tspan font-style="italic" font-size="6.2" dy="1.6">c</tspan><tspan dy="-1.6">=0.048GeV</tspan></text>
<line x1="634.40" y1="358.00" x2="652.80" y2="358.00" stroke="#804848" stroke-width="1.40"/>
<text x="661.00" y="358.20" font-size="8.80" text-anchor="start" fill="#111" stroke="#111" stroke-width="0.2"><tspan font-style="italic">μ</tspan>=0.05GeV</text>
<line x1="598.60" y1="294.40" x2="587.74" y2="309.69" stroke="#222" stroke-width="0.80"/>
<path d="M580.20,320.30 L583.91,305.76 L587.74,309.69 L592.71,312.01 Z" fill="#000"/>
<circle cx="506.50" cy="305.50" r="6.7" fill="none" stroke="#111" stroke-width="0.85"/>
<text x="506.50" y="309.70" font-size="12.00" text-anchor="middle" fill="#111" >1</text>
<circle cx="570.30" cy="326.10" r="6.7" fill="none" stroke="#111" stroke-width="0.85"/>
<text x="570.30" y="330.30" font-size="12.00" text-anchor="middle" fill="#111" >2</text>
<circle cx="591.00" cy="351.80" r="6.7" fill="none" stroke="#111" stroke-width="0.85"/>
<text x="591.00" y="356.00" font-size="12.00" text-anchor="middle" fill="#111" >3</text>
</svg>
</body></html>
